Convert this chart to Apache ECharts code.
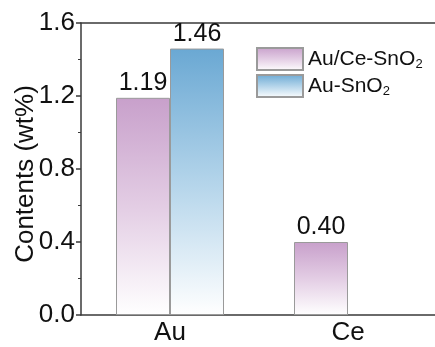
<!DOCTYPE html>
<html>
<head>
<meta charset="utf-8">
<style>
  html, body { margin: 0; padding: 0; background: #fff; }
  #chart { width: 435px; height: 347px; }
</style>
<script src="https://cdn.jsdelivr.net/npm/echarts@6/dist/echarts.min.js"></script>
</head>
<body>
<div id="chart"></div>
<script>
// Metal contents measured in the two catalysts
const elements = ['Au', 'Ce'];
const auCeSnO2 = [1.19, 0.40];
const auSnO2 = [1.46, null];
const yTicks = { min: 0, max: 1.6, interval: 0.4 };

const FONT = "'Liberation Sans', Arial, sans-serif";
const AXIS_COLOR = '#3a3a3a';

// Vertical fade from a solid hue at the bar top down to white at the base
function fade(top, mid) {
  return {
    type: 'linear', x: 0, y: 0, x2: 0, y2: 1,
    colorStops: [
      { offset: 0, color: top },
      { offset: 0.5, color: mid },
      { offset: 1, color: '#ffffff' }
    ]
  };
}

const valueLabel = {
  show: true,
  position: 'top',
  distance: 2,
  color: '#111',
  fontFamily: FONT,
  fontSize: 25,
  formatter: p => (p.value == null ? '' : Number(p.value).toFixed(2))
};

const chart = echarts.init(document.getElementById('chart'), null, { renderer: 'canvas' });

chart.setOption({
  animation: false,
  backgroundColor: '#ffffff',
  grid: { left: 81, top: 23, width: 356, bottom: 32, containLabel: false, outerBoundsMode: 'none' },
  legend: {
    orient: 'vertical',
    left: 251, top: 42,
    itemWidth: 46, itemHeight: 22, itemGap: 3,
    icon: 'rect',
    textStyle: {
      fontFamily: FONT, fontSize: 21, color: '#111',
      rich: {
        n: { fontFamily: FONT, fontSize: 21, color: '#111' },
        s: { fontFamily: FONT, fontSize: 13, color: '#111', verticalAlign: 'bottom', padding: [10, 0, 0, 0] }
      }
    },
    formatter: name => name.replace(/O2$/, '{n|O}{s|2}').replace(/^([^{]*)/, '{n|$1}')
  },
  xAxis: [
    {
      type: 'category',
      data: elements,
      axisLine: { lineStyle: { color: AXIS_COLOR, width: 1.5 } },
      axisTick: { alignWithLabel: true, length: 4, inside: false, lineStyle: { color: AXIS_COLOR, width: 1.5 } },
      axisLabel: { color: '#111', fontFamily: FONT, fontSize: 26, margin: 5 }
    },
    {
      // plain frame line along the top of the plot
      type: 'category',
      data: elements,
      position: 'top',
      axisLine: { show: true, lineStyle: { color: AXIS_COLOR, width: 1.5 } },
      axisTick: { show: false },
      axisLabel: { show: false }
    }
  ],
  yAxis: {
    type: 'value',
    min: yTicks.min, max: yTicks.max, interval: yTicks.interval,
    name: 'Contents (wt%)',
    nameLocation: 'middle',
    nameGap: 42,
    nameMoveOverlap: false,
    nameTextStyle: { color: '#111', fontFamily: FONT, fontSize: 26, padding: [0, 10, 0, 0] },
    axisLine: { show: true, lineStyle: { color: AXIS_COLOR, width: 1.5 } },
    axisTick: { show: true, length: 5, lineStyle: { color: AXIS_COLOR, width: 1.5 } },
    minorTick: { show: true, splitNumber: 2, length: 3, lineStyle: { color: AXIS_COLOR, width: 1 } },
    splitLine: { show: false },
    axisLabel: {
      color: '#111', fontFamily: FONT, fontSize: 26, margin: 6,
      formatter: v => v.toFixed(1)
    }
  },
  series: [
    {
      name: 'Au/Ce-SnO2',
      type: 'bar',
      data: auCeSnO2,
      barWidth: 54,
      barGap: '0%',
      itemStyle: { color: fade('#c8a0cb', '#e3cde4'), borderColor: '#9a9a9a', borderWidth: 1 },
      label: valueLabel
    },
    {
      name: 'Au-SnO2',
      type: 'bar',
      data: auSnO2,
      barWidth: 54,
      barGap: '0%',
      itemStyle: { color: fade('#6aa8d3', '#b3d4ea'), borderColor: '#9a9a9a', borderWidth: 1 },
      label: valueLabel
    }
  ]
});
</script>
</body>
</html>
